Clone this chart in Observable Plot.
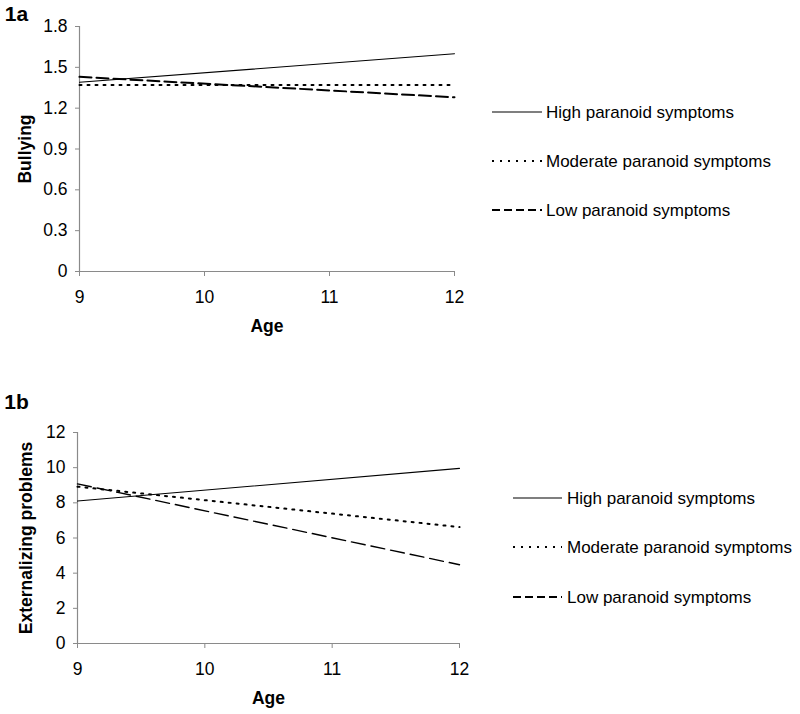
<!DOCTYPE html>
<html>
<head>
<meta charset="utf-8">
<script src="https://cdn.jsdelivr.net/npm/d3@7"></script>
<script src="https://cdn.jsdelivr.net/npm/@observablehq/plot@0.6"></script>
<style>
  body { margin: 0; background: white; }
  #root { position: relative; width: 800px; height: 714px; background: white; font-family: "Liberation Sans", Arial, sans-serif; }
  #root svg [aria-label$="tick label"], #root svg [aria-label$="tick label"] text { font-size: 17.5px !important; }
</style>
</head>
<body>
<div id="root"></div>
<script>
// ---- data ----
const ages = [9, 12];
const ageTicks = [9, 10, 11, 12];
const groups = ["High paranoid symptoms", "Moderate paranoid symptoms", "Low paranoid symptoms"];

const bullyingHigh = [1.39, 1.60];
const bullyingModerate = [1.37, 1.37];
const bullyingLow = [1.43, 1.28];
const bullyingTicks = [0, 0.3, 0.6, 0.9, 1.2, 1.5, 1.8];

const externHigh = [8.1, 9.96];
const externModerate = [8.92, 6.62];
const externLow = [9.08, 4.48];
const externTicks = [0, 2, 4, 6, 8, 10, 12];

const FONT = '"Liberation Sans", Arial, sans-serif';
const AXIS_GRAY = "#8a8a8a";

function rows(series) {
  const out = [];
  series.forEach((vals, gi) => vals.forEach((v, i) => out.push({group: groups[gi], age: ages[i], value: v})));
  return out;
}

function panel(opts) {
  const data = rows(opts.series);
  const lineMarks = groups.map((g, i) => Plot.line(data.filter(d => d.group === g), {
    x: "age", y: "value", stroke: "black",
    strokeWidth: opts.styles[i].width,
    strokeDasharray: opts.styles[i].dash
  }));
  return Plot.plot({
    width: 800,
    height: opts.height,
    marginTop: opts.marginTop,
    marginBottom: opts.marginBottom,
    marginLeft: opts.marginLeft,
    marginRight: opts.marginRight,
    style: {fontFamily: FONT, fontSize: "17px", color: "black", background: "white", overflow: "visible"},
    x: {domain: [ages[0], ages[ages.length - 1]]},
    y: {domain: [opts.ticks[0], opts.ticks[opts.ticks.length - 1]]},
    marks: [
      Plot.axisX({ticks: ageTicks, tickSize: 5, tickPadding: 14, stroke: AXIS_GRAY, fill: "black", label: null, tickFormat: d => String(d), fontSize: 17.5}),
      Plot.axisY({ticks: opts.ticks, tickSize: 4, tickPadding: 8, stroke: AXIS_GRAY, fill: "black", label: null, tickFormat: d => String(d), fontSize: 17.5}),
      Plot.ruleX([ages[0]], {stroke: AXIS_GRAY, strokeWidth: 1.2}),
      Plot.ruleY([opts.ticks[0]], {stroke: AXIS_GRAY, strokeWidth: 1.2}),
      ...lineMarks,
      Plot.text([opts.yLabel], {frameAnchor: "left", dx: opts.yLabelDx, rotate: -90, textAnchor: "middle", lineAnchor: "middle", fontWeight: "bold", fontSize: 17.5, fill: "black"}),
      Plot.text(["Age"], {frameAnchor: "bottom", dy: 55, textAnchor: "middle", lineAnchor: "middle", fontWeight: "bold", fontSize: 17.5, fill: "black"}),
      Plot.text([opts.tag], {frameAnchor: "top-left", dx: opts.tagDx, dy: opts.tagDy, textAnchor: "middle", lineAnchor: "middle", fontWeight: "bold", fontSize: 21, fill: "black"})
    ]
  });
}

function legend(cfg) {
  const svg = d3.create("svg").attr("width", 800).attr("height", 714)
    .style("position", "absolute").style("left", "0px").style("top", "0px");
  groups.forEach((g, i) => {
    const y = cfg.rows[i];
    svg.append("line").attr("x1", cfg.x1).attr("x2", cfg.x2).attr("y1", y).attr("y2", y)
      .attr("stroke", "black").attr("stroke-width", cfg.styles[i].width)
      .attr("stroke-dasharray", cfg.styles[i].dash || null);
    svg.append("text").attr("x", cfg.tx).attr("y", y).attr("dominant-baseline", "central")
      .attr("font-family", FONT).attr("font-size", 17).attr("fill", "black").text(g);
  });
  return svg.node();
}

const root = document.getElementById("root");

const stylesA = [{width: 1.1, dash: null}, {width: 2, dash: "2,6"}, {width: 2, dash: "12,5"}];
const stylesB = [{width: 1.1, dash: null}, {width: 2, dash: "2,6"}, {width: 1.4, dash: "14,6"}];

const p1 = panel({
  series: [bullyingHigh, bullyingModerate, bullyingLow], ticks: bullyingTicks,
  yLabel: "Bullying", tag: "1a", styles: stylesA,
  height: 340, marginTop: 26, marginBottom: 69, marginLeft: 79, marginRight: 346,
  yLabelDx: -54, tagDx: -63, tagDy: -12
});
p1.style.position = "absolute"; p1.style.top = "0px"; p1.style.left = "0px";
root.appendChild(p1);

const p2 = panel({
  series: [externHigh, externModerate, externLow], ticks: externTicks,
  yLabel: "Externalizing problems", tag: "1b", styles: stylesB,
  height: 374, marginTop: 92, marginBottom: 71, marginLeft: 77, marginRight: 341,
  yLabelDx: -51, tagDx: -61, tagDy: -30
});
p2.style.position = "absolute"; p2.style.top = "340px"; p2.style.left = "0px";
root.appendChild(p2);

root.appendChild(legend({x1: 492, x2: 542, tx: 546, rows: [112, 161, 210],
  styles: [{width: 1.1, dash: null}, {width: 2, dash: "2,6"}, {width: 2, dash: "8,4"}]}));
root.appendChild(legend({x1: 513, x2: 562, tx: 567, rows: [498, 547, 597],
  styles: [{width: 1.1, dash: null}, {width: 2, dash: "2,6"}, {width: 2, dash: "8,4"}]}));
</script>
</body>
</html>
